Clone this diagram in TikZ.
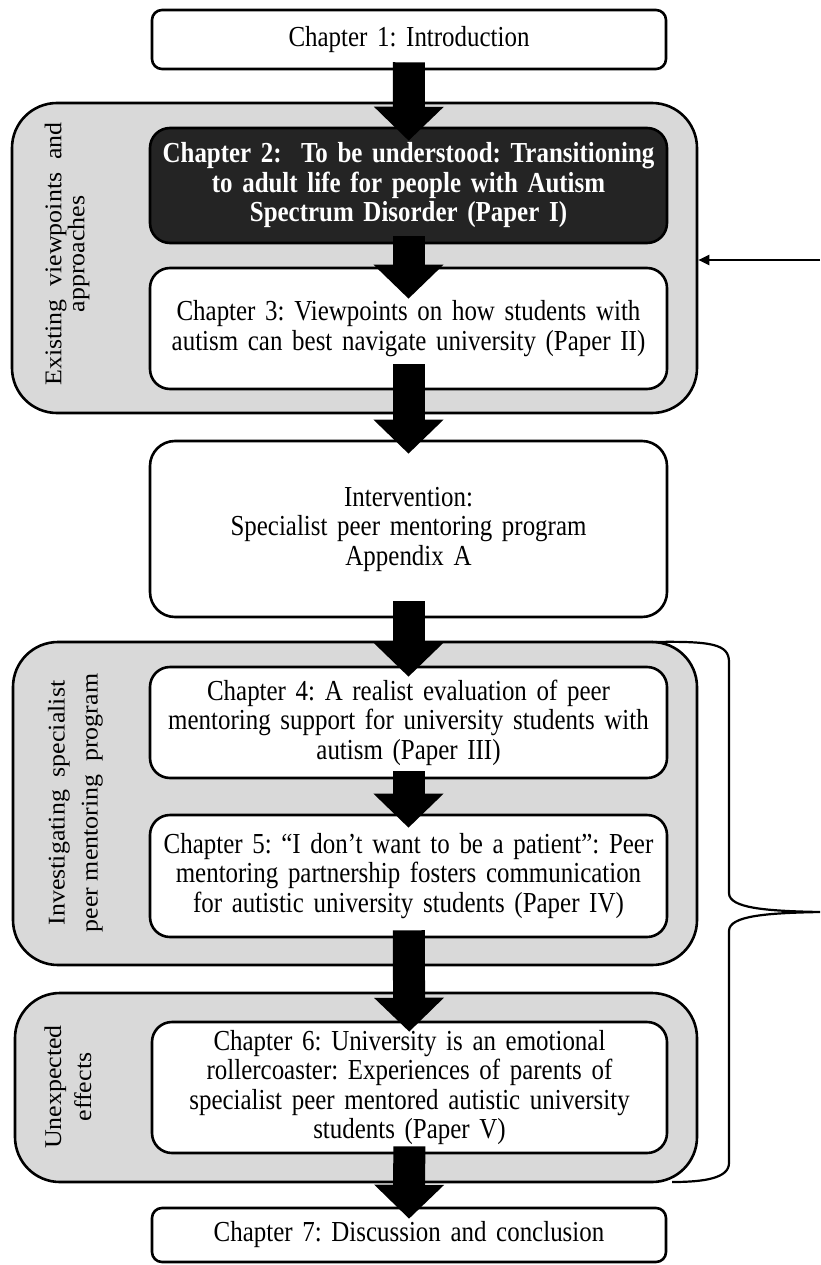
\documentclass[tikz,border=0pt]{standalone}
\usepackage{fontspec}
\setmainfont{Liberation Serif}
\newfontfamily\boxfont[FakeStretch=0.86]{Liberation Serif}
\newfontfamily\labfont[FakeStretch=1.08]{Liberation Serif}
\usetikzlibrary{arrows.meta}
\frenchspacing
\definecolor{grpfill}{HTML}{D9D9D9}
\definecolor{darkfill}{HTML}{242424}
\tikzset{
  grp/.style={draw=black,fill=grpfill,line width=2.6pt,rounded corners=45pt,inner sep=0pt},
  chap/.style={draw=black,fill=white,line width=2.6pt,rounded corners=20pt,inner sep=0pt,
    minimum width=517pt,text width=505pt,align=center,font=\boxfont\fontsize{29}{29.5}\selectfont},
  darkchap/.style={chap,fill=darkfill,text=white,font=\boxfont\fontsize{29}{29.5}\selectfont\bfseries},
  glabel/.style={rotate=90,align=center,inner sep=0pt},
  bigarrow/.style={line width=32pt,-{Triangle[length=34pt,width=68pt]},
    shorten <=-8pt,shorten >=-14pt},
  thinline/.style={line width=2.2pt}
}
\begin{document}
\begin{tikzpicture}[x=1pt,y=-1pt]
  \useasboundingbox (0,0) rectangle (820,1265);
  % groups
  \node[grp,minimum width=685pt,minimum height=310pt] (grp1) at (354.5,258) {};
  \node[grp,minimum width=684pt,minimum height=323pt] (grp2) at (355,803.5) {};
  \node[grp,minimum width=682pt,minimum height=189pt] (grp3) at (356,1087.5) {};
  \node[glabel,font=\labfont\fontsize{24}{23}\selectfont] (lab1) at (67,254) {Existing\ \ viewpoints\ \ and\\approaches};
  \node[glabel,font=\labfont\fontsize{24}{33}\selectfont] (lab2) at (75.5,803) {Investigating\ \ specialist\\peer mentoring\ \ program};
  \node[glabel,font=\labfont\fontsize{24}{30}\selectfont] (lab3) at (68,1087) {Unexpected\\effects};
  % chapters
  \node[chap,rounded corners=10pt,minimum width=514pt,minimum height=59pt] (ch1) at (409,39.5) {Chapter 1: Introduction};
  \node[darkchap,minimum height=115pt] (ch2) at (408.5,185.5) {Chapter 2:\ \ To be understood: Transitioning\\to adult life for people with Autism\\Spectrum Disorder (Paper I)};
  \node[chap,minimum height=121pt] (ch3) at (408.5,328.5) {Chapter 3: Viewpoints on how students with\\autism can best navigate university (Paper II)};
  \node[chap,rounded corners=25pt,minimum height=176pt] (intv) at (408.5,529) {Intervention:\\Specialist peer mentoring program\\Appendix A};
  \node[chap,minimum height=111pt] (ch4) at (408.5,722.5) {Chapter 4: A realist evaluation of peer\\mentoring support for university students with\\autism (Paper III)};
  \node[chap,minimum height=122pt] (ch5) at (408.5,876) {Chapter 5: “I don’t want to be a patient”: Peer\\mentoring partnership fosters communication\\for autistic university students (Paper IV)};
  \node[chap,minimum width=515pt,minimum height=131pt] (ch6) at (409.5,1087.5) {Chapter 6: University is an emotional\\rollercoaster: Experiences of parents of\\specialist peer mentored autistic university\\students (Paper V)};
  \node[chap,rounded corners=10pt,minimum width=514pt,minimum height=54pt] (ch7) at (409,1235) {Chapter 7: Discussion and conclusion};
  % block arrows
  \draw[bigarrow] (ch1) -- (ch2);
  \draw[bigarrow,shorten >=-32pt] (ch2) -- (ch3);
  \draw[bigarrow,shorten <=-26pt] (ch3) -- (intv);
  \draw[bigarrow,shorten <=-17pt,shorten >=-11pt] (intv) -- (ch4);
  \draw[bigarrow] (ch4) -- (ch5);
  \draw[bigarrow,shorten >=-11pt] (ch5) -- (ch6);
  \draw[bigarrow,shorten >=-12pt] (ch6) -- (ch7);
  % feedback arrow and brace
  \coordinate (fb) at (820,260);
  \draw[thinline,-{Triangle[length=11pt,width=10pt]}] (fb) -- (fb -| grp1.east);
  \coordinate (bt) at (652,642);
  \coordinate (btip) at (820,912);
  \coordinate (bb) at (672,1182);
  \draw[thinline] (bt) .. controls (712,641) and (729,644) .. (729,662) -- (729,893)
    .. controls (729,908) and (765,911) .. (btip)
    .. controls (765,913) and (729,916) .. (729,931) -- (729,1163)
    .. controls (729,1178) and (705,1182) .. (bb);
\end{tikzpicture}
\end{document}
